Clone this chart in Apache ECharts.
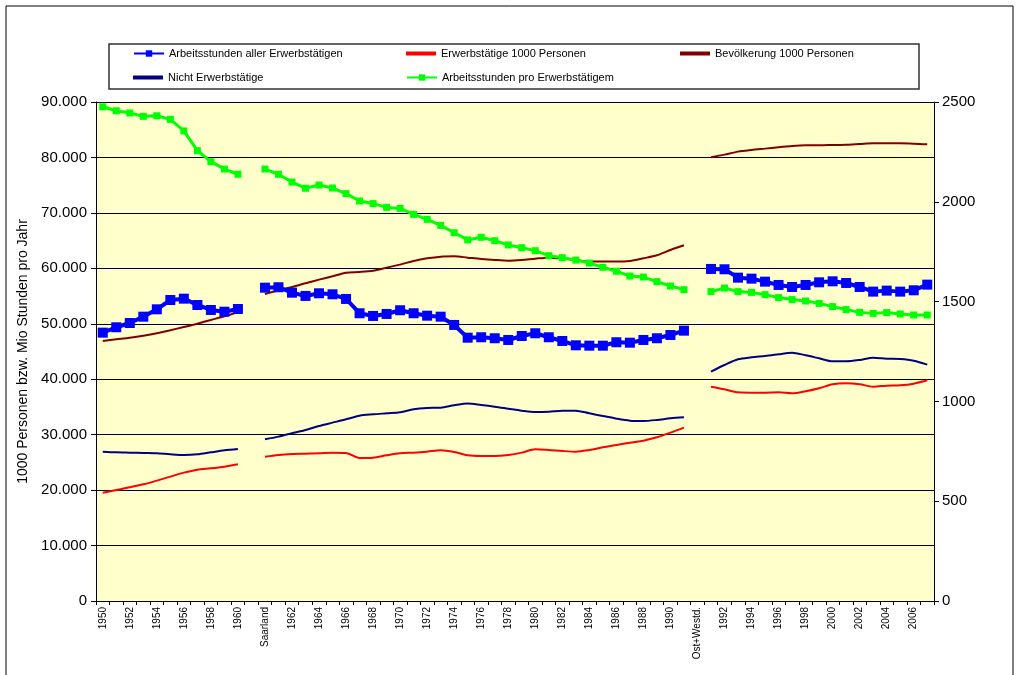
<!DOCTYPE html>
<html>
<head>
<meta charset="utf-8">
<script src="https://cdn.jsdelivr.net/npm/echarts@6/dist/echarts.min.js"></script>
<style>
html, body { margin: 0; padding: 0; background: #fff; }
#main { width: 1021px; height: 675px; }
</style>
</head>
<body>
<div id="main"></div>
<script>
// Kategorien: 1950-1960 ohne Saarland, Lücke, ab "Saarland" mit Saarland, Lücke, ab 1991 Ost+West
var categories = [
    '1950', '1951', '1952', '1953', '1954', '1955', '1956', '1957', '1958', '1959', '1960',
    ' ', 'Saarland',
    '1961', '1962', '1963', '1964', '1965', '1966', '1967', '1968', '1969', '1970',
    '1971', '1972', '1973', '1974', '1975', '1976', '1977', '1978', '1979', '1980',
    '1981', '1982', '1983', '1984', '1985', '1986', '1987', '1988', '1989', '1990',
    '1991 (West)', 'Ost+Westd.',
    '1991', '1992', '1993', '1994', '1995', '1996', '1997', '1998', '1999', '2000',
    '2001', '2002', '2003', '2004', '2005', '2006', '2007'
];

// Mio Stunden
var arbeitsstundenAlle = [
    48400, 49370, 50140, 51280, 52610, 54290, 54530, 53390, 52490, 52180, 52670,
    null,
    56510, 56590, 55610, 55020, 55500, 55320, 54480, 51900, 51410, 51770, 52440,
    51900, 51460, 51280, 49790, 47490, 47570, 47390, 47080, 47800, 48290, 47570,
    46900, 46120, 46050, 46050, 46670, 46590, 47080, 47390, 47980, 48760,
    null,
    59890, 59830, 58320, 58140, 57600, 57000, 56640, 57000, 57480, 57660, 57360,
    56640, 55800, 55980, 55800, 56040, 57060
];

// 1000 Personen
var erwerbstaetige = [
    19540, 20020, 20500, 21040, 21710, 22430, 23150, 23690, 23930, 24230, 24650,
    null,
    26030, 26340, 26520, 26580, 26640, 26760, 26700, 25790, 25850, 26280, 26640,
    26760, 26940, 27180, 26880, 26280, 26160, 26160, 26340, 26760, 27360, 27240,
    27060, 26940, 27240, 27720, 28140, 28560, 28920, 29520, 30360, 31270,
    null,
    38660, 38180, 37640, 37580, 37580, 37640, 37460, 37820, 38360, 39080, 39260,
    39080, 38660, 38840, 38900, 39200, 39800
];

var bevoelkerung = [
    46900, 47200, 47490, 47850, 48290, 48830, 49420, 50020, 50690, 51350, 52070,
    null,
    55380, 56050, 56640, 57310, 57960, 58570, 59220, 59350, 59580, 60130, 60670,
    61330, 61810, 62110, 62170, 61930, 61690, 61510, 61390, 61510, 61750, 61930,
    61750, 61510, 61210, 61210, 61210, 61330, 61810, 62350, 63310, 64160,
    null,
    80030, 80510, 81050, 81350, 81590, 81830, 82070, 82190, 82190, 82250, 82310,
    82430, 82550, 82550, 82550, 82490, 82370
];

var nichtErwerbstaetige = [
    26940, 26820, 26760, 26700, 26640, 26460, 26340, 26460, 26820, 27180, 27420,
    null,
    29160, 29650, 30250, 30850, 31570, 32170, 32770, 33430, 33670, 33850, 34030,
    34570, 34810, 34870, 35290, 35600, 35350, 35050, 34690, 34330, 34090, 34150,
    34330, 34330, 33850, 33370, 32890, 32530, 32470, 32650, 32950, 33130,
    null,
    41370, 42570, 43590, 43950, 44190, 44490, 44790, 44310, 43770, 43230, 43230,
    43470, 43890, 43710, 43650, 43350, 42630
];

// Stunden je Erwerbstätigem (rechte Achse)
var stundenProKopf = [
    2476, 2456, 2445, 2428, 2431, 2413, 2355, 2256, 2201, 2164, 2138,
    null,
    2164, 2138, 2099, 2068, 2084, 2069, 2041, 2004, 1991, 1972, 1967,
    1937, 1912, 1882, 1845, 1809, 1822, 1805, 1784, 1770, 1755, 1730,
    1720, 1708, 1693, 1672, 1652, 1628, 1623, 1600, 1578, 1560,
    null,
    1550, 1568, 1550, 1546, 1535, 1520, 1510, 1503, 1491, 1475, 1460,
    1446, 1441, 1445, 1438, 1433, 1433
];

var font = "'Liberation Sans', Arial, sans-serif";

var myChart = echarts.init(document.getElementById('main'));

// eine Legende pro Eintrag, damit die Spalten wie im Original stehen
function legendAt(name, left, top, plain) {
    var item = { name: name };
    if (plain) item.icon = 'rect';
    return {
        data: [item],
        left: left,
        top: top,
        padding: 0,
        itemWidth: 30,
        itemHeight: plain ? 4 : 8,
        textStyle: { fontFamily: font, fontSize: 11, color: '#000' }
    };
}

var option = {
    backgroundColor: '#fff',
    animation: false,
    graphic: [
        { type: 'rect', shape: { x: 6, y: 6, width: 1007, height: 700 },
          style: { fill: 'none', stroke: '#000', lineWidth: 1 }, silent: true },
        { type: 'rect', shape: { x: 109, y: 44, width: 810, height: 45 },
          style: { fill: '#fff', stroke: '#333', lineWidth: 1.5 }, silent: true, z: -1 }
    ],
    legend: [
        legendAt('Arbeitsstunden aller Erwerbstätigen', 133, 48, false),
        legendAt('Erwerbstätige 1000 Personen', 406, 48, true),
        legendAt('Bevölkerung 1000 Personen', 680, 48, true),
        legendAt('Nicht Erwerbstätige', 133, 72, true),
        legendAt('Arbeitsstunden pro Erwerbstätigem', 406, 72, false)
    ],
    grid: {
        left: 96, right: 87, top: 102, bottom: 74,
        show: true, backgroundColor: '#FFFFCC', borderWidth: 0
    },
    xAxis: {
        type: 'category',
        data: categories,
        boundaryGap: true,
        axisLine: { lineStyle: { color: '#000' } },
        axisTick: { show: true, interval: 0, length: 4, lineStyle: { color: '#000' } },
        axisLabel: {
            rotate: 90, interval: 1, margin: 6,
            fontFamily: font, fontSize: 10, color: '#000'
        }
    },
    yAxis: [
        {
            type: 'value',
            min: 0, max: 90000, interval: 10000,
            name: '1000 Personen bzw. Mio Stunden pro Jahr',
            nameLocation: 'middle',
            nameGap: 64,
            nameTextStyle: { fontFamily: font, fontSize: 14, color: '#000' },
            axisLine: { show: true, lineStyle: { color: '#000' } },
            axisTick: { show: true, length: 5, lineStyle: { color: '#000' } },
            axisLabel: {
                fontFamily: font, fontSize: 15, color: '#000', margin: 9,
                formatter: function(v) { return v === 0 ? '0' : (v / 1000) + '.000'; }
            },
            splitLine: { lineStyle: { color: '#000', width: 1 } }
        },
        {
            type: 'value',
            position: 'right',
            min: 0, max: 2500, interval: 500,
            axisLine: { show: true, lineStyle: { color: '#000' } },
            axisTick: { show: true, length: 5, lineStyle: { color: '#000' } },
            axisLabel: {
                fontFamily: font, fontSize: 15, color: '#000', margin: 8,
                formatter: function(v) { return String(v); }
            },
            splitLine: { show: false }
        }
    ],
    series: [
        {
            name: 'Arbeitsstunden aller Erwerbstätigen',
            type: 'line', yAxisIndex: 0, data: arbeitsstundenAlle,
            symbol: 'rect', symbolSize: 10, showAllSymbol: true, z: 5,
            lineStyle: { color: '#0000FF', width: 4 },
            itemStyle: { color: '#0000FF' }
        },
        {
            name: 'Erwerbstätige 1000 Personen',
            type: 'line', yAxisIndex: 0, data: erwerbstaetige,
            symbol: 'none', smooth: 0.3,
            lineStyle: { color: '#FF0000', width: 2 },
            itemStyle: { color: '#FF0000' }
        },
        {
            name: 'Bevölkerung 1000 Personen',
            type: 'line', yAxisIndex: 0, data: bevoelkerung,
            symbol: 'none', smooth: 0.3,
            lineStyle: { color: '#800000', width: 2 },
            itemStyle: { color: '#800000' }
        },
        {
            name: 'Nicht Erwerbstätige',
            type: 'line', yAxisIndex: 0, data: nichtErwerbstaetige,
            symbol: 'none', smooth: 0.3,
            lineStyle: { color: '#000080', width: 2 },
            itemStyle: { color: '#000080' }
        },
        {
            name: 'Arbeitsstunden pro Erwerbstätigem',
            type: 'line', yAxisIndex: 1, data: stundenProKopf,
            symbol: 'rect', symbolSize: 7, showAllSymbol: true,
            lineStyle: { color: '#00FF00', width: 3 },
            itemStyle: { color: '#00FF00' }
        }
    ]
};

myChart.setOption(option);
</script>
</body>
</html>
